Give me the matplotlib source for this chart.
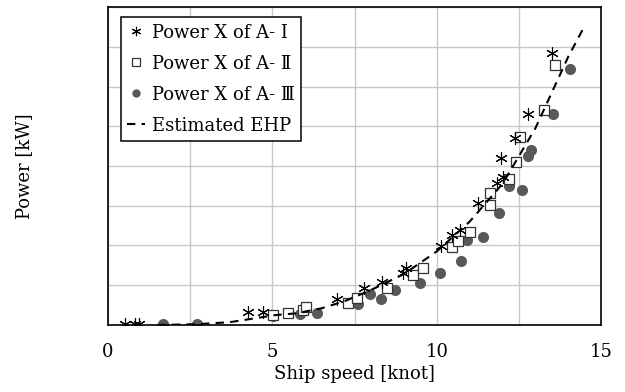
import numpy as np
import matplotlib.pyplot as plt
from matplotlib.ticker import MultipleLocator, NullFormatter

plt.rcParams['font.family'] = ['DejaVu Serif', 'Liberation Serif', 'Noto Sans CJK JP']
plt.rcParams['font.size'] = 13

# (y in grid units, axis has no numbers)
speed_a1 = [0.52, 0.82, 0.94, 4.26, 4.72, 6.97, 7.79, 8.34, 8.97, 9.06,
            10.13, 10.47, 10.71, 11.26, 11.83, 12.02, 11.96, 12.38, 12.78, 13.51]
power_a1 = [0.03, 0.03, 0.03, 0.33, 0.33, 0.65, 0.93, 1.08, 1.31, 1.43,
            1.99, 2.26, 2.39, 3.07, 3.57, 3.72, 4.20, 4.70, 5.31, 6.84]

speed_a2 = [5.02, 5.48, 5.93, 6.02, 7.30, 7.58, 8.49, 9.28, 9.58, 10.47,
            10.65, 11.01, 11.62, 11.62, 12.20, 12.41, 12.53, 13.26, 13.60]
power_a2 = [0.25, 0.30, 0.38, 0.45, 0.55, 0.68, 0.93, 1.26, 1.43, 1.96,
            2.11, 2.34, 3.02, 3.32, 3.67, 4.10, 4.73, 5.41, 6.54]

speed_a3 = [1.67, 2.71, 5.02, 5.84, 6.36, 7.61, 7.97, 8.31, 8.73, 9.49, 10.10,
            10.74, 10.92, 11.41, 11.90, 12.20, 12.60, 12.78, 12.87, 13.54, 14.06]
power_a3 = [0.03, 0.03, 0.23, 0.28, 0.30, 0.53, 0.78, 0.65, 0.88, 1.06, 1.31,
            1.61, 2.14, 2.21, 2.82, 3.50, 3.40, 4.25, 4.40, 5.31, 6.44]

speed_ehp = [1.5, 2.7, 3.7, 4.1, 5.1, 5.7, 6.5, 7.2, 8.0, 9.0, 10.0,
             11.0, 12.0, 13.0, 14.0, 14.45]
power_ehp = [0.0, 0.02, 0.07, 0.12, 0.25, 0.29, 0.42, 0.6, 0.88, 1.28, 1.85,
             2.6, 3.55, 4.95, 6.75, 7.45]

fig = plt.figure(figsize=(6.25, 3.92), dpi=100)
ax = fig.add_axes([0.1728, 0.171, 0.789, 0.811])

ax.plot(speed_a1, power_a1, ls="none", marker=(6, 2, 0), ms=9, mew=0.8,
        color="black", label="Power X of A- Ⅰ", zorder=4)
ax.plot(speed_a2, power_a2, ls="none", marker="s", ms=7.5, mew=0.9,
        mfc="white", mec="#333333", label="Power X of A- Ⅱ", zorder=3)
ax.plot(speed_a3, power_a3, ls="none", marker="o", ms=8, mew=0,
        color="#595959", label="Power X of A- Ⅲ", zorder=2)
ax.plot(speed_ehp, power_ehp, ls=(0, (4, 3)), lw=1.5, color="black",
        label="Estimated EHP", zorder=5)

ax.set_xlim(0, 15)
ax.set_ylim(0, 8)
ax.xaxis.set_major_locator(MultipleLocator(5))
ax.xaxis.set_minor_locator(MultipleLocator(2.5))
ax.yaxis.set_major_locator(MultipleLocator(1))
ax.yaxis.set_major_formatter(NullFormatter())
ax.tick_params(which="both", length=0, pad=13)
ax.grid(True, which="both", color="#c8c8c8", lw=1)
ax.set_axisbelow(True)
for s in ax.spines.values():
    s.set_linewidth(1.2)

ax.set_xlabel("Ship speed [knot]", labelpad=3)
ax.set_ylabel("Power [kW]")
ax.yaxis.set_label_coords(-0.152, 0.5)

leg = ax.legend(loc="upper left", bbox_to_anchor=(0.026, 0.968), fancybox=False,
                framealpha=1, edgecolor="black", handlelength=1.0,
                handletextpad=0.35, borderpad=0.35, labelspacing=0.72,
                borderaxespad=0, markerscale=0.75)
leg.get_frame().set_linewidth(1.1)

fig.savefig("out.png")
